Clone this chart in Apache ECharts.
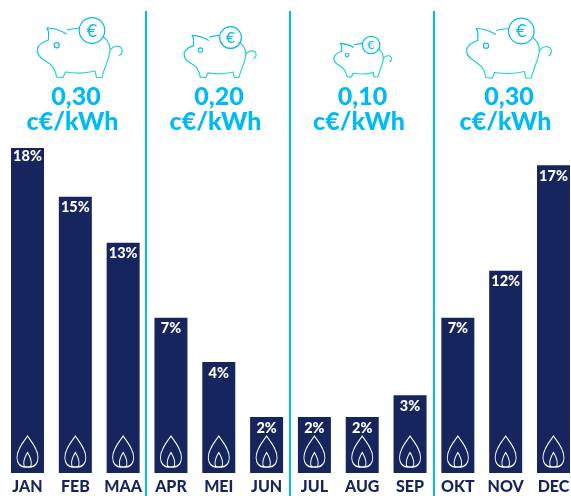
<!DOCTYPE html>
<html><head><meta charset="utf-8">
<style>html,body{margin:0;padding:0;background:#fff}#c{width:571px;height:496px}</style>
<script src="https://cdn.jsdelivr.net/npm/echarts@6/dist/echarts.min.js"></script>
</head><body><div id="c"></div>
<script>
const months = ['JAN','FEB','MAA','APR','MEI','JUN','JUL','AUG','SEP','OKT','NOV','DEC'];
const barValues = [18,15.3,12.75,8.6,6.15,3.1,3.1,3.1,4.3,8.6,11.2,17.05];
const barLabels = ['18%','15%','13%','7%','4%','2%','2%','2%','3%','7%','12%','17%'];
const flameLevel = [1.19,1.19,1.19,1.19,1.19,1.19,1.19,1.19,1.19,1.19,1.19,1.19];
const prices = ['0,30','0,20','0,10','0,30'];
const unit = 'c€/kWh';

const NAVY='#16255e', BLUE='#00b9f9';
const flame='path://M31 0C22 14 0 38 0 66C0 82 10 94 22 94L40 94C52 94 62 82 62 66C62 38 40 14 31 0ZM31 50C25 60 20 72 20 82C20 88 22 94 26 94L36 94C40 94 42 88 42 82C42 72 37 60 31 50Z';
const pigPath='M66.5 33.5C59 29 55 28 47 27.5C50 32 48 36 48.5 39.5C44 41 39 43 37.5 48C37 52 38 55 42 58C48 62 55 65 56.5 76.5L63 77L65.5 71.5C78 73.5 88 72.5 95 70.5L96.5 77L102 77C104 67 110 58 110 49C110 43 107 39 103 36M67 29.5C71 28.5 75 28 79 27.5M110 50C113 45 120 44 122 49C122.5 52 121 54 119 55';
echarts.graphic.registerShape('pigBody',echarts.graphic.extendPath(pigPath,{}));
const grad=new echarts.graphic.LinearGradient(0,0,0.35,1,[{offset:0,color:'#00b9f9'},{offset:1,color:'#2ed6bf'}]);
function pig(left,bottom,s){
  const lw=1.2/s;
  return {type:'group',x:left-36.7*s,y:bottom-77*s,scaleX:s,scaleY:s,silent:true,children:[
    {type:'pigBody',style:{fill:'none',stroke:grad,lineWidth:lw}},
    {type:'circle',shape:{cx:92,cy:30,r:12.8},style:{fill:'none',stroke:'#00b9f9',lineWidth:lw}},
    {type:'circle',shape:{cx:56.7,cy:44.7,r:2.6},style:{fill:'none',stroke:'#10bfe8',lineWidth:lw}},
    {type:'text',x:92,y:30.5,style:{text:'€',font:'400 18px Lato',fill:'#00b9f9',align:'center',verticalAlign:'middle'}}
  ]};
}
const T=(t,x,y)=>({type:'text',x,y,silent:true,style:{text:t,font:'900 25px Lato',fill:BLUE,align:'center',verticalAlign:'middle'}});
const graphics=[
  pig(36.7,77.5,1),pig(183.5,77.5,0.85),pig(333.5,77,0.68),pig(466,78,1),
  T(prices[0],76,97),T(unit,72.5,122),
  T(prices[1],219,97),T(unit,215.5,122),
  T(prices[2],362.5,97),T(unit,359,122),
  T(prices[3],509,97),T(unit,505.5,122)
];
[146,290,434].forEach(x=>graphics.push({type:'rect',silent:true,shape:{x:x-1,y:11,width:2,height:485},style:{fill:'#00bbfb'}}));

const chart=echarts.init(document.getElementById('c'),null,{renderer:'canvas'});
chart.setOption({
  animation:false,
  grid:{left:3.6,width:573.8,top:0,height:473,outerBoundsMode:'none',containLabel:false},
  xAxis:{type:'category',data:months,axisLine:{show:false},axisTick:{show:false},
    axisLabel:{color:NAVY,fontFamily:'Lato',fontWeight:900,fontSize:16,margin:6,interval:0,verticalAlign:'top'}},
  yAxis:{type:'value',min:0,max:26.2,show:false,splitLine:{show:false}},
  graphic:graphics,
  series:[
    {type:'bar',data:barValues.map((v,i)=>({value:v,label:{distance:i===0?1:3.5}})),barWidth:33,itemStyle:{color:NAVY},
     label:{show:true,position:'insideTop',color:'#fff',fontFamily:'Lato',fontWeight:900,fontSize:14.5,
       formatter:p=>barLabels[p.dataIndex]}},
    {type:'scatter',data:flameLevel,symbol:flame,symbolSize:[21,31],symbolKeepAspect:false,z:5,silent:true,
     itemStyle:{color:'rgba(0,0,0,0)',borderColor:'#fff',borderWidth:1.1,opacity:1}}
  ]
});
</script></body></html>
